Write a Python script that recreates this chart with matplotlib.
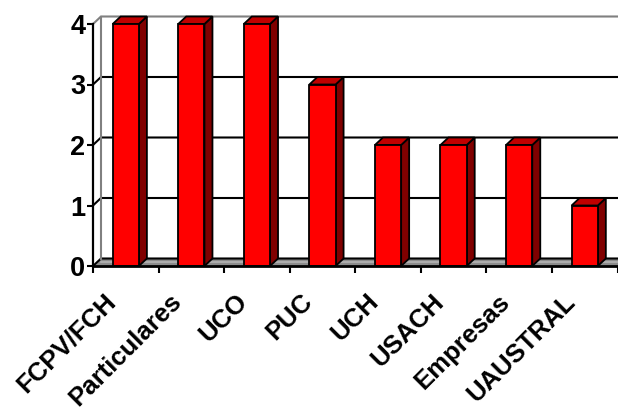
import matplotlib
matplotlib.use("Agg")
import matplotlib.pyplot as plt
from matplotlib.patches import Polygon, Rectangle
from matplotlib.transforms import ScaledTranslation

categories = ["FCPV/FCH", "Particulares", "UCO", "PUC", "UCH", "USACH", "Empresas", "UAUSTRAL"]
values = [4, 4, 4, 3, 2, 2, 2, 1]
yticks = [0, 1, 2, 3, 4]

W, H, DPI = 618, 407, 100
fig = plt.figure(figsize=(W / DPI, H / DPI), dpi=DPI)
fig.patch.set_facecolor("white")

# axes placement in pixels
x0_px, x1_px = 93, 617.5
y0_px, y1_px = 266, 24
ax = fig.add_axes([x0_px / W, (H - y0_px) / H, (x1_px - x0_px) / W, (y0_px - y1_px) / H])
n = len(categories)
ax.set_xlim(-0.5, n - 0.5)
ax.set_ylim(0, 4)
ax.set_facecolor("none")

# 3D depth offsets converted into data units
px_per_x = (x1_px - x0_px) / n
px_per_y = (y0_px - y1_px) / 4
dx = 8 / px_per_x
dy = 7.5 / px_per_y

font = "Liberation Sans"
xl = -0.5
xr = n - 0.5

# floor
floor = Polygon([(xl, 0), (xr, 0), (xr + dx, dy), (xl + dx, dy)], closed=True,
                facecolor="#8c8c8c", edgecolor="none", zorder=1, clip_on=False)
ax.add_patch(floor)
ax.plot([xl + dx, xr + dx], [dy * 0.55, dy * 0.55], color="#b4b4b4", lw=1.2, zorder=1.5, clip_on=False)

# gridlines (side wall diagonal + back wall)
for v in yticks:
    col = "#808080" if v == yticks[-1] else "black"
    ax.plot([xl, xl + dx, xr + dx + 1], [v, v + dy, v + dy], color=col, lw=1.5,
            zorder=2, clip_on=False, solid_joinstyle="miter")

# back wall left edge
ax.plot([xl + dx, xl + dx], [dy, 4 + dy], color="#808080", lw=1.5, zorder=2, clip_on=False)

# bars
bw = 0.4
for i, v in enumerate(values):
    a, b = i - bw / 2, i + bw / 2
    side = Polygon([(b, 0), (b + dx, dy), (b + dx, v + dy), (b, v)], closed=True,
                   facecolor="#800000", edgecolor="black", lw=1.3, zorder=3, clip_on=False,
                   joinstyle="miter")
    top = Polygon([(a, v), (b, v), (b + dx, v + dy), (a + dx, v + dy)], closed=True,
                  facecolor="#c00000", edgecolor="black", lw=1.3, zorder=3, clip_on=False,
                  joinstyle="miter")
    front = Rectangle((a, 0), bw, v, facecolor="#ff0000", edgecolor="black", lw=1.3,
                      zorder=4, clip_on=False, joinstyle="miter")
    ax.add_patch(side)
    ax.add_patch(top)
    ax.add_patch(front)

# spines
for s in ["top", "right"]:
    ax.spines[s].set_visible(False)
ax.spines["left"].set_linewidth(1.6)
ax.spines["bottom"].set_linewidth(2.0)
ax.spines["left"].set_zorder(5)
ax.spines["bottom"].set_zorder(5)

# y ticks
ax.set_yticks(yticks)
ax.set_yticklabels([str(v) for v in yticks], fontsize=19.5, fontweight="bold", family=font)
ax.tick_params(axis="y", length=4, width=1.5, pad=1.5, direction="out")

# x ticks: boundaries as minor ticks, labels at centers
ax.set_xticks([i - 0.5 for i in range(n + 1)], minor=True)
ax.set_xticks(range(n))
ax.set_xticklabels(categories, rotation=45, ha="right", va="top", fontsize=18.5,
                   fontweight="bold", family=font)
ax.tick_params(axis="x", which="minor", length=5, width=1.5, direction="out")
ax.tick_params(axis="x", which="major", length=0, pad=17)
shift = ScaledTranslation(-5 / DPI, 0, fig.dpi_scale_trans)
for lbl in ax.get_xticklabels():
    lbl.set_transform(lbl.get_transform() + shift)

fig.savefig("out.png", dpi=DPI, facecolor="white")
